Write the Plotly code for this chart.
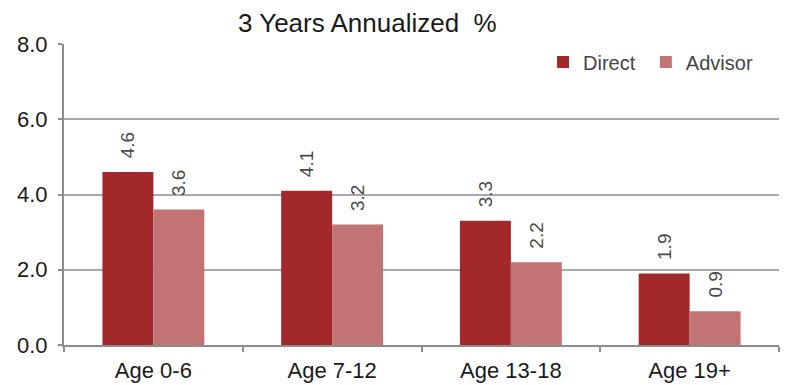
import plotly.graph_objects as go

categories = ["Age 0-6", "Age 7-12", "Age 13-18", "Age 19+"]
direct = [4.6, 4.1, 3.3, 1.9]
advisor = [3.6, 3.2, 2.2, 0.9]
direct_labels = ["4.6", "4.1", "3.3", "1.9"]
advisor_labels = ["3.6", "3.2", "2.2", "0.9"]

FONT = "Liberation Sans, Arial, sans-serif"
LABEL_TMPL = "\u00a0\u00a0%{text}"

fig = go.Figure()
fig.add_trace(go.Bar(
    x=categories, y=direct, name="Direct\u00a0",
    marker=dict(color="#a22829", line=dict(width=0)),
    text=direct_labels, texttemplate=LABEL_TMPL,
    textposition="outside", textangle=-90,
    textfont=dict(family=FONT, size=19, color="#4a4a4a"),
    cliponaxis=False,
))
fig.add_trace(go.Bar(
    x=categories, y=advisor, name="Advisor",
    marker=dict(color="#c27373", line=dict(width=0)),
    text=advisor_labels, texttemplate=LABEL_TMPL,
    textposition="outside", textangle=-90,
    textfont=dict(family=FONT, size=19, color="#4a4a4a"),
    cliponaxis=False,
))

fig.update_layout(
    width=785, height=385,
    margin=dict(l=64, r=6, t=44, b=40),
    paper_bgcolor="white", plot_bgcolor="white",
    barmode="group", bargap=0.43, bargroupgap=0,
    font=dict(family=FONT, color="#1a1a1a"),
    title=dict(text="3 Years Annualized  %", x=0.468, xanchor="center",
               y=0.94, yanchor="middle",
               font=dict(size=26, color="#1a1a1a")),
    showlegend=True,
    legend=dict(orientation="h", x=0.67, xanchor="left", y=1.005, yanchor="top",
                font=dict(size=20, color="#454545"), bgcolor="rgba(0,0,0,0)",
                itemwidth=30, traceorder="normal"),
)
fig.update_yaxes(
    range=[0, 8], dtick=2, tickformat=".1f",
    showgrid=True, gridcolor="#a8a8a8", gridwidth=2,
    showline=True, linecolor="#8c8c8c", linewidth=2,
    ticks="outside", ticklen=4, tickcolor="#8c8c8c", tickwidth=2,
    ticklabelstandoff=6, automargin=False,
    tickfont=dict(size=22, color="#1a1a1a"),
    zeroline=False,
)
fig.update_xaxes(
    showline=True, linecolor="#8c8c8c", linewidth=2,
    ticks="outside", ticklen=5, tickcolor="#8c8c8c", tickwidth=2,
    tickson="boundaries", ticklabelstandoff=5, automargin=False,
    tickfont=dict(size=22, color="#1a1a1a"),
)

fig.write_html("out.html")
